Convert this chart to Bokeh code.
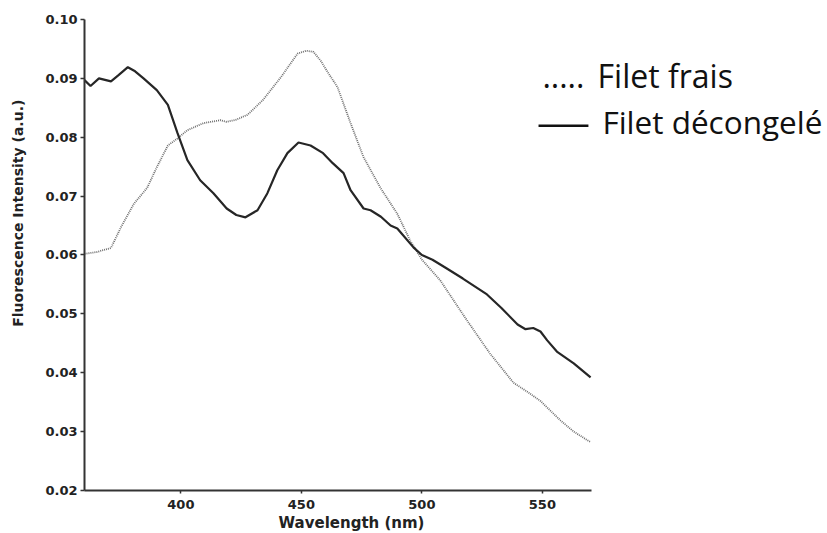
import math
from bokeh.plotting import figure
from bokeh.models import Label, BoxAnnotation, FixedTicker, CustomJSTickFormatter, Range1d
from bokeh.embed import file_html
from bokeh.resources import INLINE

# ---- data ----
wl_decongele = [360, 362.5, 366, 371, 374, 378, 381, 384.5, 390, 394.6, 398.6, 402.7, 408,
                413.5, 419, 423, 426.8, 431.8, 435.9, 440, 444.2, 448.8, 453.8, 459, 463,
                467.5, 470.4, 475.8, 478.7, 483, 487, 489.8, 496.5, 500, 504.4, 510, 517,
                527, 533, 539.7, 543, 546.2, 549.2, 552, 556, 563, 570]
int_decongele = [0.0897, 0.0887, 0.0900, 0.0895, 0.0905, 0.0919, 0.0912, 0.0900, 0.0880,
                 0.0855, 0.0807, 0.0761, 0.0727, 0.0705, 0.0679, 0.0668, 0.0664, 0.0676,
                 0.0705, 0.0744, 0.0773, 0.0791, 0.0786, 0.0773, 0.0756, 0.0739, 0.0710,
                 0.0679, 0.0676, 0.0665, 0.0650, 0.0645, 0.0613, 0.0600, 0.0592, 0.0578,
                 0.0560, 0.0533, 0.0510, 0.0482, 0.0474, 0.0476, 0.0470, 0.0455, 0.0436,
                 0.0416, 0.0392]

wl_frais = [360, 365, 371, 375, 380.5, 386, 390, 394.6, 398.6, 402.7, 409.4, 416.4, 419,
            423, 427.6, 434, 441.5, 448.4, 452, 455, 458, 461, 465, 470.4, 475.8, 482.8,
            489.8, 495.2, 500, 507.6, 518.7, 528.2, 538, 544, 549.2, 557.5, 563, 570]
int_frais = [0.0602, 0.0605, 0.0612, 0.0646, 0.0687, 0.0714, 0.0749, 0.0786, 0.0798, 0.0812,
             0.0824, 0.0829, 0.0826, 0.0830, 0.0838, 0.0863, 0.0902, 0.0942, 0.0947, 0.0945,
             0.0930, 0.0910, 0.0885, 0.0824, 0.0766, 0.0714, 0.0670, 0.0624, 0.0592, 0.0557,
             0.0489, 0.0433, 0.0383, 0.0367, 0.0352, 0.0319, 0.0300, 0.0282]

x_ticks = [400, 450, 500, 550]
y_ticks = [0.02, 0.03, 0.04, 0.05, 0.06, 0.07, 0.08, 0.09, 0.10]
x_bounds = (360, 570.5)
y_bounds = (0.02, 0.10)

x_label = "Wavelength (nm)"
y_label = "Fluorescence Intensity (a.u.)"
legend_frais = "Filet frais"
legend_decongele = "Filet décongelé"

# ---- figure: the frame spans the whole canvas; axes sit at fixed data locations ----
p = figure(output_backend="svg", toolbar_location=None,
           frame_width=827, frame_height=533,
           min_border=0,
           x_range=Range1d(325.15, 668.3), y_range=Range1d(0.012696, 0.103227))
p.outline_line_color = None
p.xgrid.visible = False
p.ygrid.visible = False
p.background_fill_color = "white"
p.border_fill_color = "white"

p.line(wl_frais, int_frais, line_color="#707070", line_width=1.8, line_dash="1 1")
p.line(wl_decongele, int_decongele, line_color="#262626", line_width=2.2)

for ax in (p.xaxis[0], p.yaxis[0]):
    ax.axis_line_color = "#333333"
    ax.axis_line_width = 2
    ax.major_tick_line_color = "#333333"
    ax.major_tick_line_width = 1.5
    ax.major_tick_in = 0
    ax.minor_tick_line_color = None
    ax.major_label_text_font = "DejaVu Sans"
    ax.major_label_text_font_style = "bold"
    ax.major_label_text_font_size = "13px"
    ax.major_label_text_color = "#222222"

p.xaxis.ticker = FixedTicker(ticks=x_ticks)
p.yaxis.ticker = FixedTicker(ticks=y_ticks)
p.yaxis.formatter = CustomJSTickFormatter(code="return tick.toFixed(2);")
p.xaxis.bounds = x_bounds
p.yaxis.bounds = y_bounds
p.xaxis.fixed_location = y_bounds[0]
p.yaxis.fixed_location = x_bounds[0]
p.xaxis.major_tick_out = 3
p.xaxis.major_label_standoff = 7
p.yaxis.major_tick_out = 4
p.yaxis.major_label_standoff = 3

# axis titles
p.add_layout(Label(x=470.8, y=0.014395, text=x_label, text_align="center",
                   text_baseline="middle", text_font="DejaVu Sans", text_font_style="bold",
                   text_font_size="15px", text_color="#222222"))
p.add_layout(Label(x=332.6, y=0.0671, text=y_label, angle=math.pi / 2,
                   text_align="center", text_baseline="middle", text_font="DejaVu Sans",
                   text_font_style="bold", text_font_size="14px", text_color="#222222"))

# legend (drawn as text, like the reference)
p.add_layout(Label(x=550.0, y=0.090488, text=".....", text_align="left",
                   text_baseline="alphabetic", text_font="Open Sans",
                   text_font_size="32px", text_color="#111111"))
p.add_layout(Label(x=572.9, y=0.090488, text=legend_frais, text_align="left",
                   text_baseline="alphabetic", text_font="Open Sans",
                   text_font_size="32px", text_color="#111111"))
p.add_layout(BoxAnnotation(left=548.4, right=569.1, top=0.082166, bottom=0.081741,
                           fill_color="#111111", fill_alpha=1, line_color=None))
p.add_layout(Label(x=574.9, y=0.082675, text=legend_decongele, text_align="left",
                   text_baseline="alphabetic", text_font="Open Sans",
                   text_font_size="31.5px", text_color="#111111"))

open("out.html", "w").write(file_html(p, INLINE))
